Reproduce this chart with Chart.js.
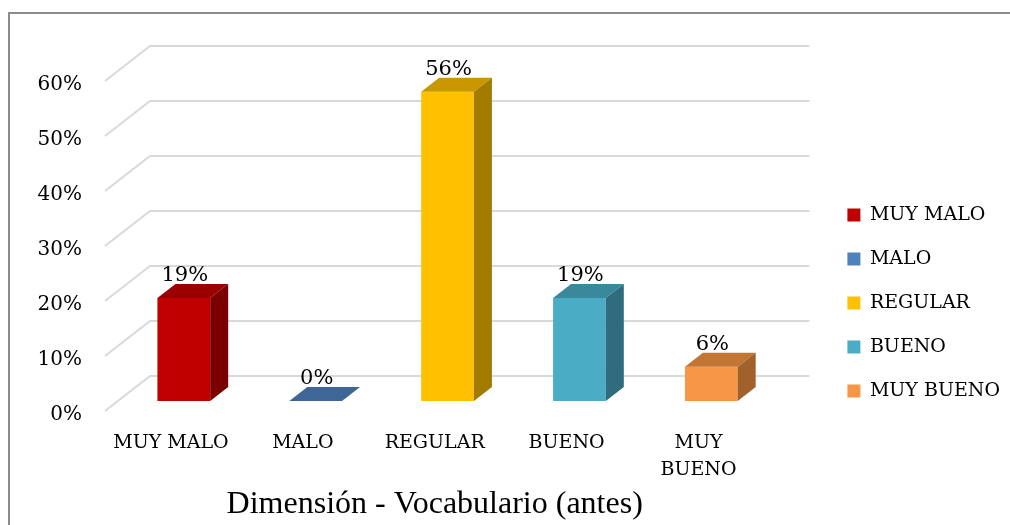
<!DOCTYPE html>
<html>
<head>
<meta charset="utf-8">
<script src="https://cdn.jsdelivr.net/npm/chart.js@4/dist/chart.umd.min.js"></script>
<style>
  html, body { margin: 0; padding: 0; background: #fff; }
  #wrap { width: 1010px; height: 525px; position: relative; }
</style>
</head>
<body>
<div id="wrap"><canvas id="vocabChart"></canvas></div>
<script>
const categories = ['MUY MALO', 'MALO', 'REGULAR', 'BUENO', 'MUY BUENO'];
const tickLabels = ['MUY MALO', 'MALO', 'REGULAR', 'BUENO', ['MUY', 'BUENO']];
const percentages = [18.75, 0, 56.25, 18.75, 6.25];
const frontColors = ['#C00000', '#4F81BD', '#FFC000', '#4BACC6', '#F79646'];
const topColors = ['#9A0000', '#3E6696', '#C99700', '#3A889C', '#C27636'];
const sideColors = ['#7A0000', '#2F4D72', '#A37B00', '#2F6C7E', '#A0612C'];

// depth of the 3D box (floor), and where the bars sit in it
const depth = { dx: 45, dy: -35 };
const barFront = 10 / 35;
const barDepth = 0.4;

const serif = 'DejaVu Serif';

const threeD = {
    id: 'threeD',
    beforeDraw(chart) {
        const ctx = chart.ctx;
        ctx.save();
        ctx.strokeStyle = '#8c8c8c';
        ctx.lineWidth = 2;
        ctx.beginPath();
        ctx.moveTo(1010, 13);
        ctx.lineTo(9, 13);
        ctx.lineTo(9, 525);
        ctx.stroke();
        ctx.restore();
    },
    beforeDatasetsDraw(chart) {
        const { ctx, chartArea: a, scales: { y } } = chart;
        ctx.save();
        ctx.strokeStyle = '#d9d9d9';
        ctx.lineWidth = 2;
        y.ticks.forEach(t => {
            const py = y.getPixelForValue(t.value);
            ctx.beginPath();
            ctx.moveTo(a.left, py);
            ctx.lineTo(a.left + depth.dx, py + depth.dy);
            ctx.lineTo(a.right + depth.dx, py + depth.dy);
            ctx.stroke();
        });
        ctx.restore();
        ctx.save();
        ctx.translate(depth.dx * barFront, depth.dy * barFront);
    },
    afterDatasetsDraw(chart) {
        const ctx = chart.ctx;
        const ox = depth.dx * barDepth, oy = depth.dy * barDepth;
        chart.getDatasetMeta(0).data.forEach((bar, i) => {
            const l = bar.x - bar.width / 2, r = bar.x + bar.width / 2;
            const top = bar.y, base = bar.base;
            ctx.fillStyle = topColors[i];
            ctx.beginPath();
            ctx.moveTo(l, top);
            ctx.lineTo(r, top);
            ctx.lineTo(r + ox, top + oy);
            ctx.lineTo(l + ox, top + oy);
            ctx.closePath();
            ctx.fill();
            ctx.fillStyle = sideColors[i];
            ctx.beginPath();
            ctx.moveTo(r, top);
            ctx.lineTo(r + ox, top + oy);
            ctx.lineTo(r + ox, base + oy);
            ctx.lineTo(r, base);
            ctx.closePath();
            ctx.fill();
            ctx.fillStyle = '#000';
            ctx.font = '21px "' + serif + '"';
            ctx.textAlign = 'center';
            ctx.textBaseline = 'alphabetic';
            ctx.fillText(Math.round(percentages[i]) + '%', bar.x + 1, top + oy - 3);
        });
        ctx.restore();
    }
};

const ctx = document.getElementById('vocabChart').getContext('2d');
new Chart(ctx, {
    type: 'bar',
    data: {
        labels: tickLabels,
        datasets: [{
            label: 'Dimensión - Vocabulario (antes)',
            data: percentages,
            backgroundColor: frontColors,
            borderWidth: 0,
            categoryPercentage: 0.8,
            barPercentage: 0.5
        }]
    },
    options: {
        responsive: true,
        maintainAspectRatio: false,
        animation: false,
        layout: { padding: { top: 81, left: 0, right: 0, bottom: 0 } },
        plugins: {
            tooltip: { enabled: false },
            legend: {
                position: 'right',
                maxWidth: 260,
                labels: {
                    boxWidth: 13,
                    boxHeight: 13,
                    padding: 25,
                    color: '#000',
                    font: { family: serif, size: 19 },
                    generateLabels: () => categories.map((c, i) => ({
                        text: c,
                        fillStyle: frontColors[i],
                        strokeStyle: frontColors[i],
                        lineWidth: 0,
                        index: i
                    }))
                }
            }
        },
        scales: {
            y: {
                min: 0,
                max: 60,
                grid: { display: false, drawTicks: false },
                border: { display: false },
                afterFit: s => { s.width = 105; },
                ticks: {
                    stepSize: 10,
                    padding: 23,
                    color: '#000',
                    // empty first line nudges the label a few px down
                    font: { family: serif, size: 20, lineHeight: 0.4 },
                    callback: v => ['', v + '%']
                }
            },
            y2: {
                position: 'right',
                grid: { display: false, drawTicks: false },
                border: { display: false },
                ticks: { display: false },
                afterFit: s => { s.width = 58; }
            },
            x: {
                grid: { display: false, drawTicks: false },
                border: { display: false },
                afterFit: s => { s.height = 114; },
                ticks: {
                    padding: 19,
                    maxRotation: 0,
                    autoSkip: false,
                    color: '#000',
                    font: { family: serif, size: 19, lineHeight: 1.42 }
                },
                title: {
                    display: true,
                    text: 'Dimensión - Vocabulario (antes)',
                    color: '#000',
                    padding: { top: 0, bottom: 1 },
                    font: { family: 'Liberation Serif', size: 32 }
                }
            }
        }
    },
    plugins: [threeD]
});
</script>
</body>
</html>
